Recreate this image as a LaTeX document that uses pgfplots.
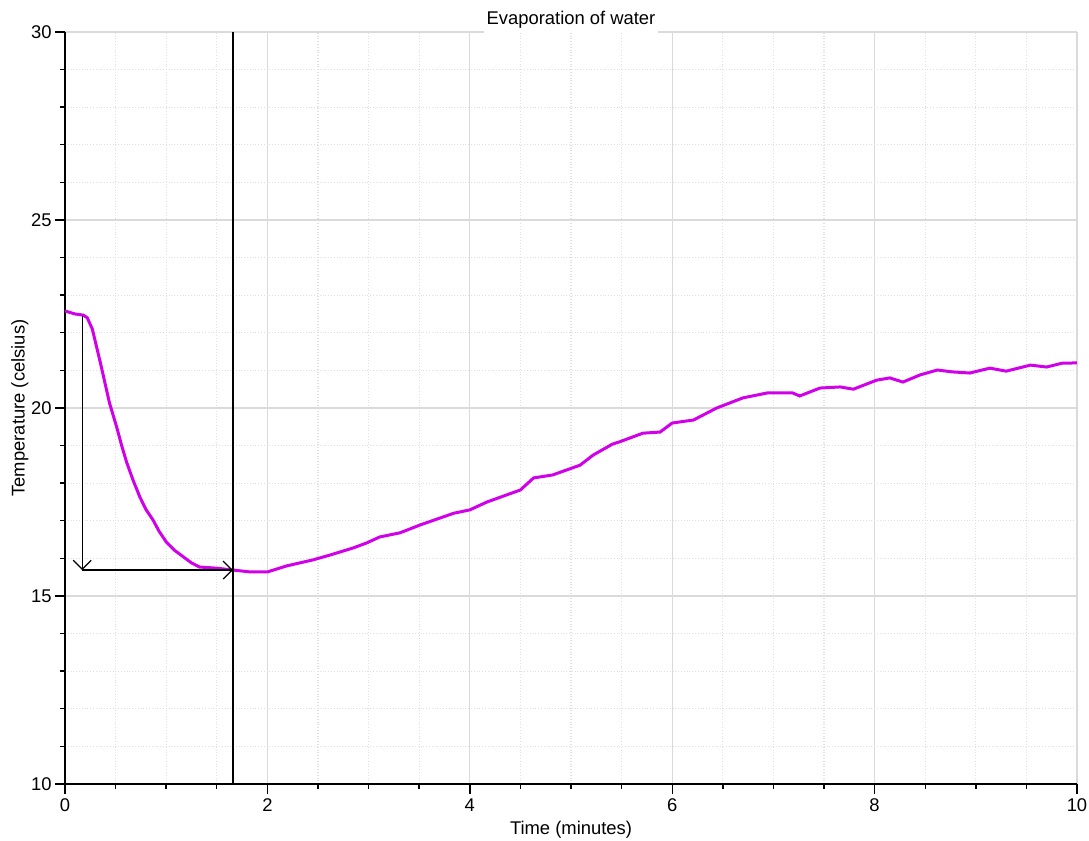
\documentclass[border=0pt]{standalone}
\usepackage{fontspec}
\setmainfont{Liberation Sans}
\usepackage{pgfplots}
\pgfplotsset{compat=1.18}
\usetikzlibrary{arrows.meta}
\definecolor{tempmag}{RGB}{208,0,232}
\definecolor{majgrid}{RGB}{218,218,218}
\definecolor{mingrid}{RGB}{224,224,224}
\newcommand{\chartfont}{\fontsize{9.2}{11}\selectfont}

\begin{document}
\begin{tikzpicture}
\begin{axis}[
    scale only axis,
    width=506pt, height=376pt,
    xmin=0, xmax=10, ymin=10, ymax=30,
    axis x line*=bottom, axis y line*=left,
    axis line style={black, line width=0.8pt, -},
    xtick={0,2,...,10}, ytick={10,15,...,30},
    minor x tick num=3, minor y tick num=4,
    tick align=outside,
    major tick length=5pt, minor tick length=2.5pt,
    tick style={black, line width=0.7pt},
    grid=both,
    major grid style={majgrid, line width=0.6pt},
    minor grid style={mingrid, densely dotted, line width=0.6pt},
    /pgf/number format/assume math mode=true,
    tick label style={font=\chartfont},
    xticklabel style={inner sep=2pt},
    yticklabel style={inner sep=1.5pt},
    xlabel={Time (minutes)},
    ylabel={Temperature (celsius)},
    xlabel style={font=\chartfont, at={(axis description cs:0.5,0)}, anchor=center, yshift=-23pt},
    ylabel style={font=\chartfont, at={(axis description cs:-0.0445,0.5)}, anchor=center},
    title={Evaporation of water},
    title style={font=\chartfont, at={(axis description cs:0.5,1)}, anchor=south,
                 yshift=-6.6pt, fill=white, inner xsep=1.5pt, inner ysep=2pt},
]
% temperature record
\addplot[tempmag, line width=1.5pt] coordinates {
(0,22.58) (0.1,22.5) (0.18,22.47) (0.22,22.4) (0.27,22.1) (0.31,21.65) (0.35,21.2)
(0.44,20.13) (0.51,19.5) (0.56,19.0) (0.61,18.55) (0.67,18.1) (0.74,17.63)
(0.8,17.3) (0.87,17.02) (0.93,16.72) (1.0,16.44) (1.08,16.22) (1.17,16.04)
(1.25,15.88) (1.33,15.77) (1.5,15.74) (1.66,15.69) (1.83,15.64) (2.0,15.64)
(2.19,15.8) (2.45,15.96) (2.62,16.09) (2.85,16.28) (2.98,16.41) (3.11,16.57)
(3.31,16.68) (3.51,16.89) (3.84,17.2) (4.0,17.29) (4.17,17.5) (4.5,17.82)
(4.63,18.14) (4.82,18.22) (5.09,18.48) (5.22,18.75) (5.41,19.04) (5.48,19.1)
(5.71,19.33) (5.88,19.36) (6.0,19.6) (6.21,19.68) (6.44,20.0) (6.7,20.27)
(6.94,20.4) (7.19,20.4) (7.26,20.32) (7.46,20.53) (7.66,20.56) (7.79,20.5)
(8.02,20.74) (8.15,20.8) (8.28,20.69) (8.45,20.88) (8.62,21.01) (8.77,20.96)
(8.94,20.93) (9.14,21.06) (9.3,20.98) (9.54,21.14) (9.7,21.09) (9.85,21.19)
(10,21.2)
};
% cursor line
\addplot[black, line width=0.8pt] coordinates {(1.66,10) (1.66,30)};
% measurement arrows
\addplot[black, line width=0.6pt, -{Straight Barb[length=4.5pt,width=9pt]}]
    coordinates {(0.17,22.45) (0.17,15.69)};
\addplot[black, line width=0.6pt, -{Straight Barb[length=4.5pt,width=9pt]}]
    coordinates {(0.17,15.69) (1.66,15.69)};
\end{axis}
\pgfresetboundingbox
\useasboundingbox ([xshift=-32.5pt,yshift=-28.5pt]current axis.south west)
    rectangle ([xshift=6pt,yshift=16pt]current axis.north east);
\end{tikzpicture}
\end{document}
